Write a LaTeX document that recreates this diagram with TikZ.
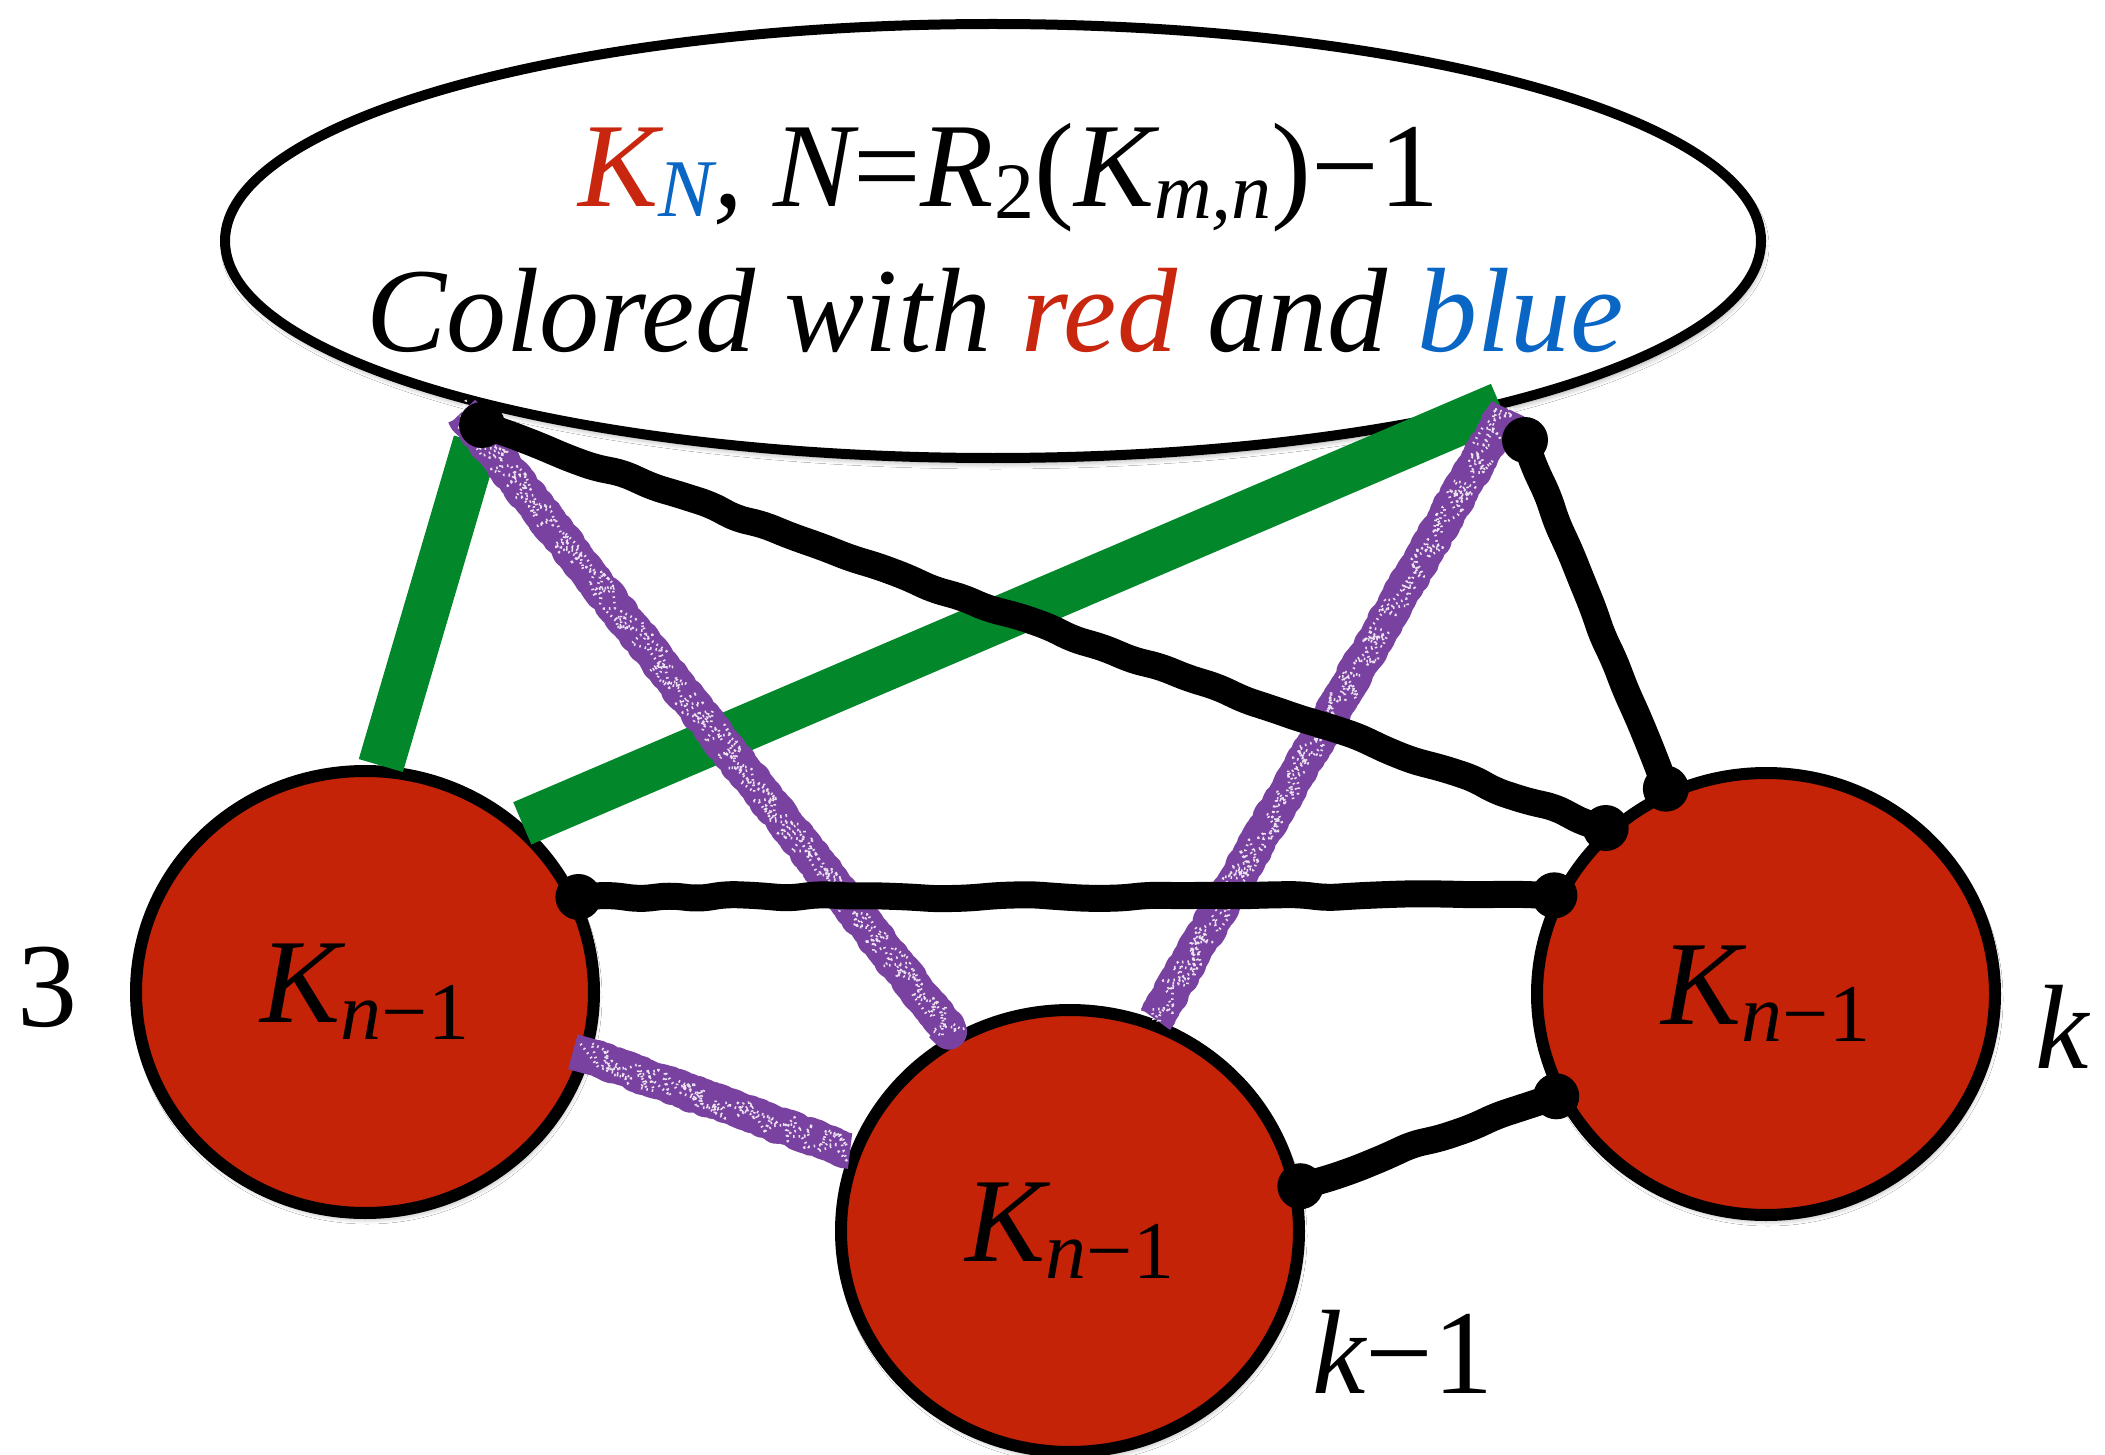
\documentclass[tikz,border=0pt]{standalone}
\usepackage{fontspec}
\setmainfont{Liberation Serif}
\usetikzlibrary{shapes.geometric,calc,decorations.pathmorphing,shadows.blur}
\definecolor{kred}{RGB}{196,35,8}
\definecolor{tred}{RGB}{200,38,14}
\definecolor{kblue}{RGB}{10,102,196}
\definecolor{kgreen}{RGB}{3,135,43}
\definecolor{kpurple}{RGB}{122,66,160}
\newcommand\KnText{\itshape K\lower17pt\hbox{\fontsize{82}{82}\selectfont\itshape n\upshape −1}}
\begin{document}
\begin{tikzpicture}[x=1pt,y=-1pt,
 bigfont/.style={font=\fontsize{120}{144}\selectfont},
 shadowed/.style={blur shadow={shadow xshift=2pt,shadow yshift=-5pt,shadow blur radius=6pt,shadow opacity=40}},
 cluster/.style={ellipse, draw=black, line width=12pt, fill=kred, minimum width=458pt, minimum height=442pt, inner sep=0pt, shadowed, bigfont},
 bubble/.style={ellipse, draw=black, line width=10pt, fill=white, minimum width=1536pt, minimum height=434pt, inner sep=0pt, shadowed},
 txt/.style={bigfont, inner sep=0pt, anchor=base},
 greenedge/.style={draw=kgreen, line width=46pt},
 purpleedge/.style={draw=kpurple, line width=36pt, line join=round, line cap=butt, decorate, decoration={random steps, segment length=4pt, amplitude=1.5pt}},
 speckle/.style={draw=white, line width=2.6pt, line join=round, dash pattern=on 1.5pt off 4pt, decorate, decoration={random steps, segment length=2.5pt, amplitude=13pt}, opacity=.85},
 blackedge/.style={draw=black, line width=27pt, line cap=round, line join=round, decorate, decoration={random steps, segment length=30pt, amplitude=2.5pt}, rounded corners=10pt},
 dotend/.style={fill=black}
]
\pgfmathsetseed{7}
\fill[white] (0,0) rectangle (2105,1455);
\useasboundingbox (0,0) rectangle (2105,1455);

% top bubble
\node[bubble] (E) at (993,241) {};
\node[txt] (t1) at (1009,207) {\textcolor{tred}{\itshape K}\lower10pt\hbox{\fontsize{82}{82}\selectfont\itshape\textcolor{kblue}{N}}\itshape, N\upshape=\itshape R\lower12pt\hbox{\fontsize{80}{80}\selectfont\upshape 2}\upshape(\itshape K\lower12pt\hbox{\fontsize{80}{80}\selectfont\itshape m,n}\upshape)−1};
\node[txt] (t2) at (995,352) {\itshape Colored with \textcolor{tred}{red} and \textcolor{kblue}{blue}};

% clusters
\node[cluster] (L) at (365,992) {\KnText};
\node[cluster] (M) at (1070,1231) {\KnText};
\node[cluster] (R) at (1766,994) {\KnText};

% end points near the bubble
\coordinate (g1top) at ($(E.center)+(-517,201)$);
\coordinate (g2top) at ($(E.center)+(507,164)$);
\coordinate (p1top) at ($(E.center)+(-531,171)$);
\coordinate (p2top) at ($(E.center)+(515,168)$);
\coordinate (b1top) at ($(E.center)+(-511,184)$);
\coordinate (b2top) at ($(E.center)+(532,199)$);

% green edges
\draw[greenedge] (L.86) -- (g1top);
\draw[greenedge] (L.47) -- (g2top);

% purple edges
\draw[purpleedge, shorten >=14pt] (p1top) -- (M.121);
\draw[speckle, shorten >=16pt] (p1top) -- (M.121);
\draw[purpleedge] (p2top) -- (M.68);
\draw[speckle, shorten >=2pt] (p2top) -- (M.68);
\draw[purpleedge, shorten <=-18pt] (L.-16) -- (M.160);
\draw[speckle, shorten <=-16pt, shorten >=2pt] (L.-16) -- (M.160);

% black edges
\draw[blackedge] (b1top) -- (R.134);
\fill[dotend] (b1top) circle (23pt);
\fill[dotend] (R.134) circle (23pt);
\draw[blackedge] (b2top) -- (R.116);
\fill[dotend] (b2top) circle (23pt);
\fill[dotend] (R.116) circle (23pt);
\draw[blackedge] (L.24) -- (R.155);
\fill[dotend] (L.24) circle (23pt);
\fill[dotend] (R.155) circle (23pt);
\draw[blackedge] (M.11) -- (R.206);
\fill[dotend] (M.11) circle (23pt);
\fill[dotend] (R.206) circle (23pt);

% labels
\node[txt] (l3) at (47,1026) {3};
\node[txt, anchor=base west] (lk) at (2035,1068) {\itshape k};
\node[txt, anchor=base west] (lk1) at (1312,1393) {\itshape k\upshape −1};
\end{tikzpicture}
\end{document}
